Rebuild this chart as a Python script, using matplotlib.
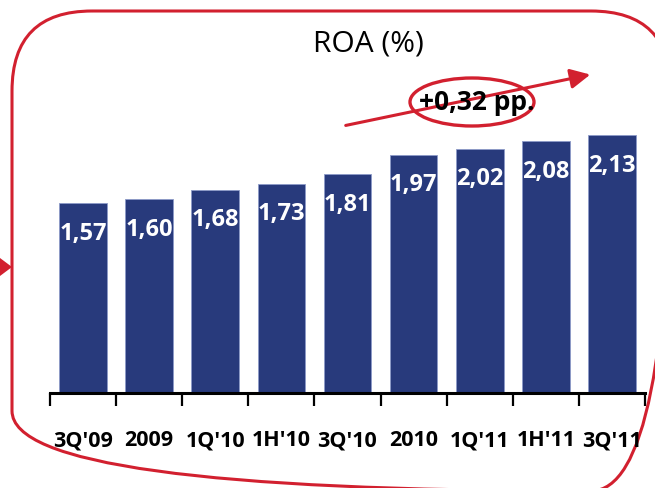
import matplotlib.pyplot as plt
from matplotlib.patches import FancyBboxPatch, Ellipse, Polygon

periods = ["3Q'09", "2009", "1Q'10", "1H'10", "3Q'10", "2010", "1Q'11", "1H'11", "3Q'11"]
roa = [1.57, 1.60, 1.68, 1.73, 1.81, 1.97, 2.02, 2.08, 2.13]
change_label = '+0,32 pp.'

navy = '#283A7C'
red = '#D2202F'

plt.rcParams['font.family'] = ['Open Sans', 'DejaVu Sans']

fig = plt.figure(figsize=(6.55, 4.89), dpi=100)

# background layer in pixel coordinates: rounded red frame
back = fig.add_axes([0, 0, 1, 1], zorder=0)
back.set_xlim(0, 655)
back.set_ylim(489, 0)
back.axis('off')
back.add_patch(FancyBboxPatch((12, 12), 659, 480, boxstyle='round,pad=0,rounding_size=80',
                              fc='none', ec=red, lw=2.2))
back.add_patch(Polygon([(0, 259), (0, 277), (12, 268)], closed=True, fc=red, ec='none'))

# bar chart
ax = fig.add_axes([50 / 655, 1 - 394 / 489, 595 / 655, 334 / 489], zorder=1)
ax.patch.set_alpha(0)
x = range(len(periods))
ax.bar(x, roa, width=0.72, color=navy, edgecolor='#8C9AC8', linewidth=0.6)
for i, v in enumerate(roa):
    ax.text(i, v - 0.245, f'{v:.2f}'.replace('.', ','), ha='center', va='center',
            color='white', fontsize=17, fontweight='bold')
ax.set_xlim(-0.5, len(periods) - 0.5)
ax.set_ylim(0, 2.76)
ax.set_xticks([i - 0.5 for i in range(len(periods) + 1)])
ax.set_xticklabels([])
ax.set_xticks(list(x), minor=True)
ax.set_xticklabels(periods, minor=True, fontsize=15.5, fontweight='bold')
ax.tick_params(axis='x', which='major', length=9, width=1.6, color='black')
ax.tick_params(axis='x', which='minor', length=0, pad=26)
ax.set_yticks([])
for s in ['top', 'right', 'left']:
    ax.spines[s].set_visible(False)
ax.spines['bottom'].set_linewidth(2.2)

# overlay: title, trend arrow and change bubble
top = fig.add_axes([0, 0, 1, 1], zorder=2)
top.set_xlim(0, 655)
top.set_ylim(489, 0)
top.axis('off')
top.text(368, 44, 'ROA (%)', ha='center', va='center', fontsize=21.5)
top.annotate('', xy=(593, 75), xytext=(343, 127),
             arrowprops=dict(arrowstyle='-|>', color=red, lw=2.2, mutation_scale=30))
top.add_patch(Ellipse((472, 103), 124, 48, fc='white', ec=red, lw=2.4))
top.text(477, 102, change_label, ha='center', va='center', fontsize=19, fontweight='bold')

fig.savefig('out.png', dpi=100)
